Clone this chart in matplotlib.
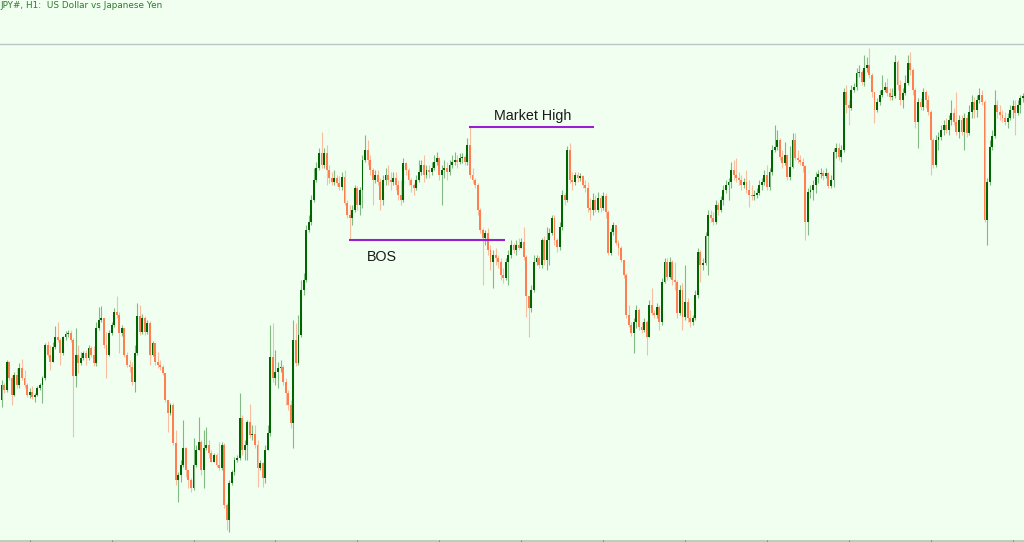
import matplotlib
matplotlib.use("Agg")
import matplotlib.pyplot as plt
import numpy as np

# USDJPY H1 quotes, in pips above 108.00 (one pip = 0.01)
first_open = 200
close_pips = [
    215, 210, 238, 222, 205, 225, 215, 232, 222, 215,
    205, 208, 203, 205, 212, 215, 222, 255, 245, 238,
    253, 263, 260, 247, 263, 266, 267, 260, 224, 245,
    237, 242, 247, 242, 252, 245, 237, 272, 280, 282,
    255, 245, 267, 275, 288, 285, 267, 272, 245, 235,
    233, 218, 247, 284, 268, 282, 268, 277, 245, 257,
    238, 235, 233, 227, 200, 187, 195, 157, 120, 125,
    135, 152, 130, 120, 112, 135, 150, 158, 130, 152,
    155, 147, 138, 145, 135, 132, 155, 95, 80, 117,
    128, 140, 142, 182, 150, 155, 178, 165, 166, 155,
    132, 137, 122, 150, 167, 243, 222, 228, 232, 233,
    218, 207, 195, 177, 260, 237, 265, 310, 320, 370,
    378, 400, 420, 432, 447, 435, 447, 430, 422, 418,
    422, 417, 413, 423, 397, 385, 382, 390, 412, 395,
    410, 440, 450, 440, 430, 420, 425, 418, 400, 420,
    425, 420, 418, 422, 415, 405, 400, 437, 430, 420,
    415, 412, 420, 428, 435, 425, 430, 428, 432, 438,
    442, 425, 430, 432, 428, 435, 438, 440, 438, 442,
    443, 438, 455, 425, 420, 415, 390, 370, 362, 367,
    350, 338, 345, 342, 338, 325, 322, 338, 345, 355,
    350, 355, 352, 358, 343, 304, 292, 310, 338, 342,
    335, 360, 340, 360, 367, 382, 360, 353, 373, 405,
    400, 450, 420, 418, 425, 422, 424, 415, 412, 392,
    390, 400, 390, 402, 392, 404, 388, 347, 368, 375,
    357, 352, 340, 325, 285, 275, 267, 278, 290, 273,
    270, 278, 263, 295, 287, 285, 293, 278, 318, 338,
    323, 338, 320, 318, 287, 310, 283, 298, 282, 278,
    282, 305, 348, 335, 337, 364, 385, 382, 378, 395,
    390, 400, 410, 415, 418, 430, 425, 422, 420, 415,
    418, 410, 405, 404, 405, 407, 415, 418, 425, 413,
    428, 450, 453, 460, 443, 437, 445, 423, 433, 460,
    442, 440, 438, 434, 378, 408, 410, 415, 423, 426,
    427, 424, 427, 414, 420, 448, 452, 443, 450, 508,
    495, 492, 510, 513, 527, 528, 518, 532, 535, 525,
    508, 490, 498, 505, 510, 513, 507, 503, 504, 538,
    515, 500, 507, 517, 537, 530, 510, 478, 498, 493,
    508, 500, 488, 460, 435, 460, 463, 470, 475, 470,
    480, 487, 478, 468, 480, 468, 482, 467, 488, 498,
    490, 500, 505, 498, 380, 418, 453, 464, 495, 488,
    485, 482, 478, 482, 490, 494, 487, 495, 502, 504,
]
high_pips = [
    220, 217, 240, 239, 225, 228, 232, 237, 241, 230,
    217, 212, 214, 207, 214, 217, 224, 257, 259, 255,
    258, 274, 278, 262, 264, 269, 270, 270, 262, 272,
    255, 248, 249, 250, 255, 254, 254, 278, 293, 294,
    282, 268, 270, 278, 292, 304, 288, 275, 272, 248,
    240, 238, 255, 297, 295, 286, 284, 280, 279, 259,
    257, 248, 240, 235, 227, 200, 197, 197, 170, 128,
    140, 180, 153, 130, 122, 162, 155, 183, 160, 170,
    173, 160, 150, 147, 147, 158, 158, 157, 97, 120,
    130, 143, 145, 207, 185, 160, 180, 196, 175, 175,
    160, 140, 138, 155, 175, 275, 277, 250, 238, 240,
    235, 222, 210, 200, 280, 277, 285, 320, 327, 375,
    385, 405, 432, 438, 452, 468, 452, 455, 435, 428,
    430, 425, 424, 428, 430, 400, 395, 395, 415, 414,
    413, 445, 465, 460, 445, 432, 430, 430, 422, 425,
    432, 435, 428, 428, 428, 420, 420, 442, 438, 432,
    422, 417, 425, 440, 440, 445, 435, 435, 438, 445,
    448, 443, 435, 440, 438, 440, 445, 448, 445, 447,
    447, 445, 462, 473, 432, 422, 417, 392, 372, 370,
    372, 355, 350, 352, 345, 342, 332, 342, 350, 360,
    357, 360, 362, 362, 373, 345, 304, 315, 345, 345,
    344, 362, 364, 373, 372, 385, 385, 362, 378, 410,
    407, 454, 457, 428, 428, 428, 427, 425, 420, 418,
    402, 407, 405, 408, 405, 408, 407, 390, 372, 378,
    375, 360, 354, 340, 327, 295, 278, 282, 295, 292,
    278, 282, 280, 300, 312, 290, 297, 295, 322, 342,
    342, 343, 340, 338, 320, 315, 317, 335, 302, 290,
    285, 310, 352, 350, 342, 368, 390, 390, 388, 400,
    398, 404, 415, 420, 422, 438, 440, 442, 428, 425,
    422, 430, 420, 415, 410, 412, 420, 422, 430, 435,
    432, 455, 475, 470, 462, 450, 458, 445, 454, 467,
    467, 450, 445, 442, 435, 412, 415, 420, 428, 430,
    432, 430, 432, 428, 425, 452, 457, 457, 455, 512,
    515, 500, 515, 517, 532, 535, 530, 545, 543, 552,
    527, 508, 502, 510, 525, 518, 522, 512, 512, 545,
    540, 520, 512, 525, 545, 548, 532, 512, 502, 502,
    512, 510, 505, 490, 462, 465, 468, 475, 480, 482,
    485, 500, 492, 508, 485, 485, 487, 485, 495, 505,
    503, 505, 512, 510, 500, 422, 460, 470, 510, 500,
    495, 490, 488, 487, 495, 500, 500, 500, 505, 507,
]
low_pips = [
    193, 207, 208, 220, 195, 204, 212, 212, 220, 212,
    203, 202, 201, 198, 204, 210, 197, 220, 243, 230,
    238, 251, 258, 235, 245, 260, 263, 258, 163, 213,
    227, 235, 240, 235, 240, 243, 234, 234, 270, 278,
    252, 222, 244, 265, 273, 282, 247, 264, 243, 233,
    228, 215, 208, 245, 265, 266, 265, 266, 235, 244,
    235, 232, 230, 225, 198, 168, 185, 155, 115, 98,
    118, 133, 123, 112, 108, 110, 133, 150, 125, 112,
    150, 142, 138, 138, 133, 130, 130, 92, 70, 68,
    115, 125, 138, 140, 145, 140, 140, 162, 160, 152,
    113, 130, 113, 117, 150, 164, 218, 215, 212, 228,
    215, 195, 190, 172, 152, 234, 235, 263, 305, 318,
    368, 375, 398, 418, 430, 432, 432, 415, 417, 415,
    415, 414, 410, 410, 395, 382, 360, 375, 388, 390,
    385, 392, 438, 435, 425, 395, 417, 415, 390, 395,
    415, 415, 410, 415, 410, 400, 395, 398, 425, 415,
    408, 405, 410, 418, 425, 418, 422, 422, 425, 430,
    435, 420, 395, 422, 420, 425, 432, 435, 432, 436,
    437, 435, 435, 422, 417, 412, 385, 367, 315, 355,
    345, 330, 312, 335, 332, 320, 317, 320, 315, 342,
    347, 345, 350, 352, 340, 283, 263, 288, 308, 335,
    332, 332, 335, 330, 335, 365, 355, 348, 350, 370,
    395, 398, 417, 410, 415, 418, 419, 412, 408, 388,
    380, 385, 388, 388, 388, 390, 382, 345, 345, 365,
    355, 345, 338, 322, 282, 273, 264, 247, 272, 270,
    267, 268, 245, 263, 285, 282, 282, 270, 275, 317,
    320, 322, 315, 310, 282, 285, 270, 280, 278, 273,
    275, 280, 302, 318, 330, 335, 325, 378, 375, 376,
    385, 388, 395, 407, 400, 412, 420, 418, 415, 410,
    412, 407, 393, 400, 400, 402, 405, 410, 415, 410,
    410, 425, 448, 450, 440, 432, 435, 420, 420, 432,
    440, 437, 435, 428, 360, 365, 402, 400, 407, 417,
    422, 420, 422, 412, 412, 413, 442, 440, 438, 448,
    487, 475, 490, 508, 510, 523, 515, 514, 528, 522,
    503, 477, 488, 495, 503, 508, 504, 500, 500, 502,
    510, 495, 492, 505, 515, 525, 505, 472, 452, 490,
    490, 492, 485, 425, 432, 433, 450, 460, 465, 467,
    465, 475, 475, 465, 462, 465, 450, 463, 465, 482,
    482, 483, 497, 495, 378, 355, 415, 450, 462, 482,
    480, 478, 475, 472, 480, 482, 465, 485, 487, 498,
]

# marked levels: label, bar of the swing, bar where the line stops, which extreme
market_high = ("Market High", 183, 231.4, "high")
bos = ("BOS", 136, 196.7, "low")

BASE = 108.0
close = BASE + np.array(close_pips) / 100
high = BASE + np.array(high_pips) / 100
low = BASE + np.array(low_pips) / 100
open_ = np.concatenate([[BASE + first_open / 100], close[:-1]])
n = len(close)
idx = np.arange(n)

BG = "#F0FFF0"
BULL = "#006400"
BEAR = "#FF7F50"

fig = plt.figure(figsize=(10.24, 5.42), dpi=100, facecolor=BG)
ax = fig.add_axes([0, 0, 1, 1], facecolor=BG)

up = close >= open_
top = np.maximum(high, np.maximum(open_, close))
bot = np.minimum(low, np.minimum(open_, close))
ax.vlines(idx[up], bot[up], top[up], color=BULL, lw=0.8, alpha=0.45)
ax.vlines(idx[~up], bot[~up], top[~up], color=BEAR, lw=0.8, alpha=0.5)

body = np.abs(close - open_)
body = np.maximum(body, 0.01)
bstart = np.minimum(open_, close)
ax.bar(idx[up], body[up], bottom=bstart[up], width=0.74, color=BULL, lw=0)
ax.bar(idx[~up], body[~up], bottom=bstart[~up], width=0.74, color=BEAR, lw=0)

# pixel-like frame: bar i sits at x = 1.5 + 2.56 * i
ax.set_xlim(-1.5 / 2.56, (1024 - 1.5) / 2.56)
ax.set_ylim(BASE + 58 / 100, BASE + 600 / 100)
ax.axis("off")

# top separator and bottom time scale
ax.axhline(BASE + 556 / 100, color="#B9C6CC", lw=1.0)
ax.axhline(BASE + 59.5 / 100, color="#A8CCA8", lw=1.2)
for t in range(11, n, 32):
    ax.vlines(t, BASE + 58 / 100, BASE + 60 / 100, color="#6E9E6E", lw=0.8)

PURPLE = "#9A1ED4"
for label, bar, end, kind in (market_high, bos):
    level = high[bar] if kind == "high" else low[bar]
    ax.hlines(level, bar - 0.3, end, color=PURPLE, lw=1.5)

ax.text(207.6, BASE + 484 / 100, market_high[0], ha="center", va="center",
        fontsize=10.3, family="Liberation Sans", color="#1A1A1A")
ax.text(148.6, BASE + 343 / 100, bos[0], ha="center", va="center",
        fontsize=10.3, family="Liberation Sans", color="#1A1A1A")

fig.text(0.0, 1 - 6 / 542, "JPY#, H1:  US Dollar vs Japanese Yen", ha="left",
         va="center", fontsize=6.4, color="#2F7A2F")

fig.savefig("out.png", dpi=100, facecolor=BG)
